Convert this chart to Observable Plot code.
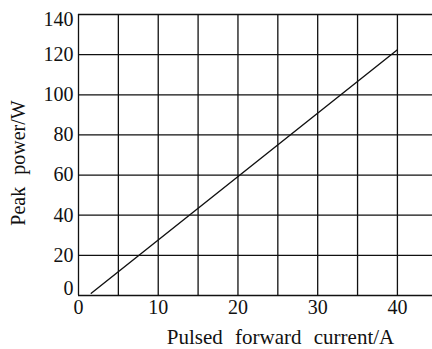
<!DOCTYPE html>
<html>
<head>
<meta charset="utf-8">
<script src="https://cdn.jsdelivr.net/npm/d3@7"></script>
<script src="https://cdn.jsdelivr.net/npm/@observablehq/plot@0.6"></script>
<style>
  html, body { margin: 0; padding: 0; background: #fff; }
  svg text { font-family: 'Liberation Serif', 'Times New Roman', serif; }
  .ttl text { word-spacing: 7px; }
</style>
</head>
<body>
<div id="chart"></div>
<script>
// Data
const currentA = [1.6, 40];        // Pulsed forward current / A
const powerW = [1.1, 122.4];       // Peak power / W
const xTickValues = [0, 10, 20, 30, 40];
const yTickValues = [0, 20, 40, 60, 80, 100, 120, 140];
const xGridValues = [0, 5, 10, 15, 20, 25, 30, 35, 40];
const yGridValues = [0, 20, 40, 60, 80, 100, 120, 140];
const xTitle = "Pulsed forward current/A";
const yTitle = "Peak power/W";

const linePoints = currentA.map((x, i) => ({x, y: powerW[i]}));
const font = "'Liberation Serif', 'Times New Roman', serif";
const yMid = yTickValues.filter(v => v !== 0 && v !== 140);

const chart = Plot.plot({
  width: 432,
  height: 349,
  marginLeft: 78,
  marginRight: 0,
  marginTop: 14,
  marginBottom: 54,
  style: {fontFamily: font, fontSize: "20px", color: "#111", background: "#fff"},
  x: {domain: [0, 44.4], axis: null},
  y: {domain: [0, 140], axis: null},
  marks: [
    Plot.ruleX(xGridValues, {x: d => d, y1: 0, y2: 140, stroke: "#111", strokeWidth: 1.3}),
    Plot.ruleY(yGridValues, {y: d => d, stroke: "#111", strokeWidth: 1.3}),
    Plot.line(linePoints, {x: "x", y: "y", stroke: "#111", strokeWidth: 1.4}),
    Plot.text(yMid, {x: 0, y: d => d, text: d => String(d), textAnchor: "end", dx: -5, fontSize: 20, fontFamily: font}),
    Plot.text([0], {x: 0, y: d => d, text: d => String(d), textAnchor: "end", dx: -5, dy: -7, fontSize: 20, fontFamily: font}),
    Plot.text([140], {x: 0, y: d => d, text: d => String(d), textAnchor: "end", dx: -5, dy: 5, fontSize: 20, fontFamily: font}),
    Plot.text(xTickValues, {x: d => d, y: 0, text: d => String(d), dy: 12, fontSize: 20, fontFamily: font}),
    Plot.text([xTitle], {frameAnchor: "bottom", text: d => d, textAnchor: "middle", dx: 25, dy: 48, fontSize: 21, fontFamily: font, className: "ttl"}),
    Plot.text([yTitle], {frameAnchor: "left", text: d => d, textAnchor: "middle", rotate: -90, dx: -60, dy: 8, fontSize: 20, fontFamily: font, className: "ttl"})
  ]
});
document.getElementById("chart").appendChild(chart);
</script>
</body>
</html>
